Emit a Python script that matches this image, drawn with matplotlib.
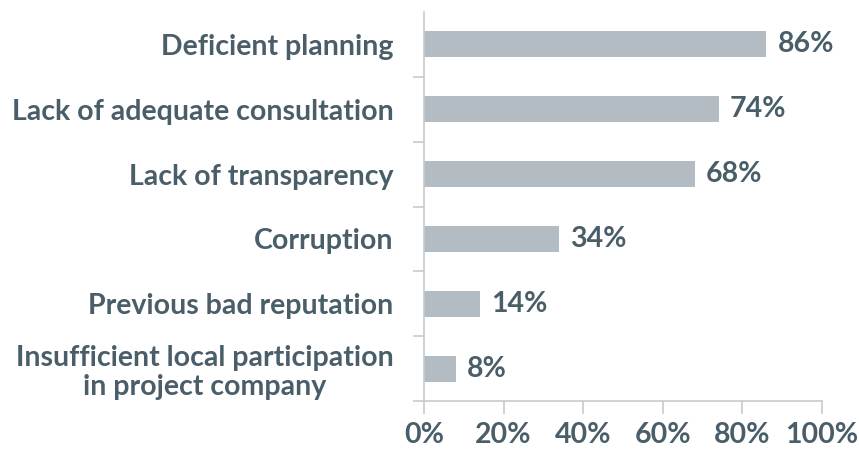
import matplotlib
matplotlib.use("Agg")
import matplotlib.pyplot as plt
from matplotlib.ticker import FixedLocator

categories = ["Deficient planning", "Lack of adequate consultation", "Lack of transparency",
              "Corruption", "Previous bad reputation",
              "Insufficient local participation\nin project company"]
values = [86, 74, 68, 34, 14, 8]
xticks = [0, 20, 40, 60, 80, 100]
xticklabels = ["0%", "20%", "40%", "60%", "80%", "100%"]

text_color = "#4a5e69"
bar_color = "#b4bcc3"
spine_color = "#c3cbcf"
font = "Lato"
fs_lab = 20.5
fs_num = 20.5

fig = plt.figure(figsize=(8.59, 4.51), dpi=100)
ax = fig.add_axes([424/859, 1-401/451, (822-424)/859, (401-12)/451])

n = len(categories)
ypos = list(range(n))
ax.barh(ypos, values, height=0.4, color=bar_color, zorder=2)
ax.set_ylim(n - 0.5, -0.5)
ax.set_xlim(0, 100)

for y, v in zip(ypos, values):
    ax.annotate(f"{v}%", xy=(v, y), xytext=(8, 0), textcoords="offset points",
                va="center", ha="left", fontsize=fs_num,
                fontweight="bold", color=text_color, family=font)

ax.set_yticks(ypos)
ax.set_yticklabels(categories, fontsize=fs_lab, fontweight="bold", color=text_color,
                   family=font, linespacing=1.15, multialignment="center")
ax.tick_params(axis="y", length=0, pad=22)
ax.yaxis.set_minor_locator(FixedLocator([i + 0.5 for i in range(n)]))
ax.tick_params(axis="y", which="minor", length=8, color=spine_color, width=1.2)

ax.set_xticks(xticks)
ax.set_xticklabels(xticklabels, fontsize=fs_num, fontweight="bold", color=text_color, family=font)
ax.tick_params(axis="x", length=9, color=spine_color, width=1.2, pad=6)

for s in ["top", "right"]:
    ax.spines[s].set_visible(False)
for s in ["left", "bottom"]:
    ax.spines[s].set_color(spine_color)
    ax.spines[s].set_linewidth(1.2)

fig.savefig("out.png", dpi=100, facecolor="white")
